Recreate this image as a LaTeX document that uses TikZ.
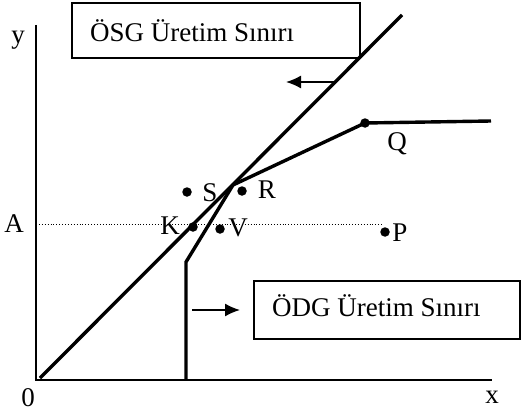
\documentclass[tikz,border=0pt]{standalone}
\usepackage{fontspec}
\setmainfont{Liberation Serif}
\usetikzlibrary{positioning, calc, arrows.meta}

\begin{document}
\begin{tikzpicture}[
        x=1pt, y=-1pt,
        axis/.style={line width=2pt},
        frontier/.style={line width=3.4pt},
        framebox/.style={draw, line width=1.6pt},
        pt/.style={circle, fill=black, inner sep=0pt, minimum size=9.5pt},
        lbl/.style={font=\fontsize{27}{29}\selectfont, inner sep=0pt},
        boxtext/.style={font=\fontsize{27}{29}\selectfont, inner sep=0pt, anchor=west},
        shiftarrow/.style={line width=1.6pt, -{Latex[length=15pt, width=13pt]}}
    ]
        \useasboundingbox (0,0) rectangle (522,412);

        % Axes
        \coordinate (O) at (36,380);
        \coordinate (ytop) at (36,25);
        \coordinate (xend) at (492,380);
        \draw[axis] (ytop) -- (O) -- (xend);
        \node[lbl] (ylab) at (18,40) {y};
        \node[lbl] (zero) at (28,398) {0};
        \node[lbl] (xlab) at (492,397) {x};

        % OSG frontier (straight line)
        \coordinate (osgA) at (40,378);
        \coordinate (osgB) at (402,15);
        \draw[frontier] (osgA) -- (osgB);

        % ODG frontier (kinked)
        \coordinate (f1) at (186,380);
        \coordinate (f2) at (186,262);
        \coordinate (f3) at (233,185);
        \coordinate (f4) at (365,123);
        \coordinate (f5) at (491,121);
        \draw[frontier] (f1) -- (f2) -- (f3) -- (f4) -- (f5);

        % Level A
        \coordinate (a0) at (36,224);
        \coordinate (a1) at (383,224);
        \draw[dotted, line width=0.9pt] (a0) -- (a1);
        \node[lbl] (Alab) at (14,224) {A};

        % Points
        \node[pt] (S) at (187,192) {};
        \node[pt] (R) at (242,191) {};
        \node[pt] (K) at (193,227) {};
        \node[pt] (V) at (220,229) {};
        \node[pt] (P) at (385,232) {};
        \node[pt] (Q) at (365,123) {};
        \node[lbl] (Slab) at (210,193) {S};
        \node[lbl] (Rlab) at (267,190) {R};
        \node[lbl] (Klab) at (170,226) {K};
        \node[lbl] (Vlab) at (238,228) {V};
        \node[lbl] (Plab) at (400,233) {P};
        \node[lbl] (Qlab) at (397,144) {Q};

        % Boxes
        \draw[framebox] (72,3) rectangle (360,58);
        \node[boxtext] (osg) at (90,31) {ÖSG Üretim Sınırı};
        \draw[framebox] (254,281) rectangle (520,339);
        \node[boxtext] (odg) at (272,306) {ÖDG Üretim Sınırı};

        % Shift arrows
        \coordinate (l0) at (334,82);
        \coordinate (l1) at (286,82);
        \draw[shiftarrow] (l0) -- (l1);
        \coordinate (r0) at (192,310);
        \coordinate (r1) at (240,310);
        \draw[shiftarrow] (r0) -- (r1);

    \end{tikzpicture}
\end{document}
